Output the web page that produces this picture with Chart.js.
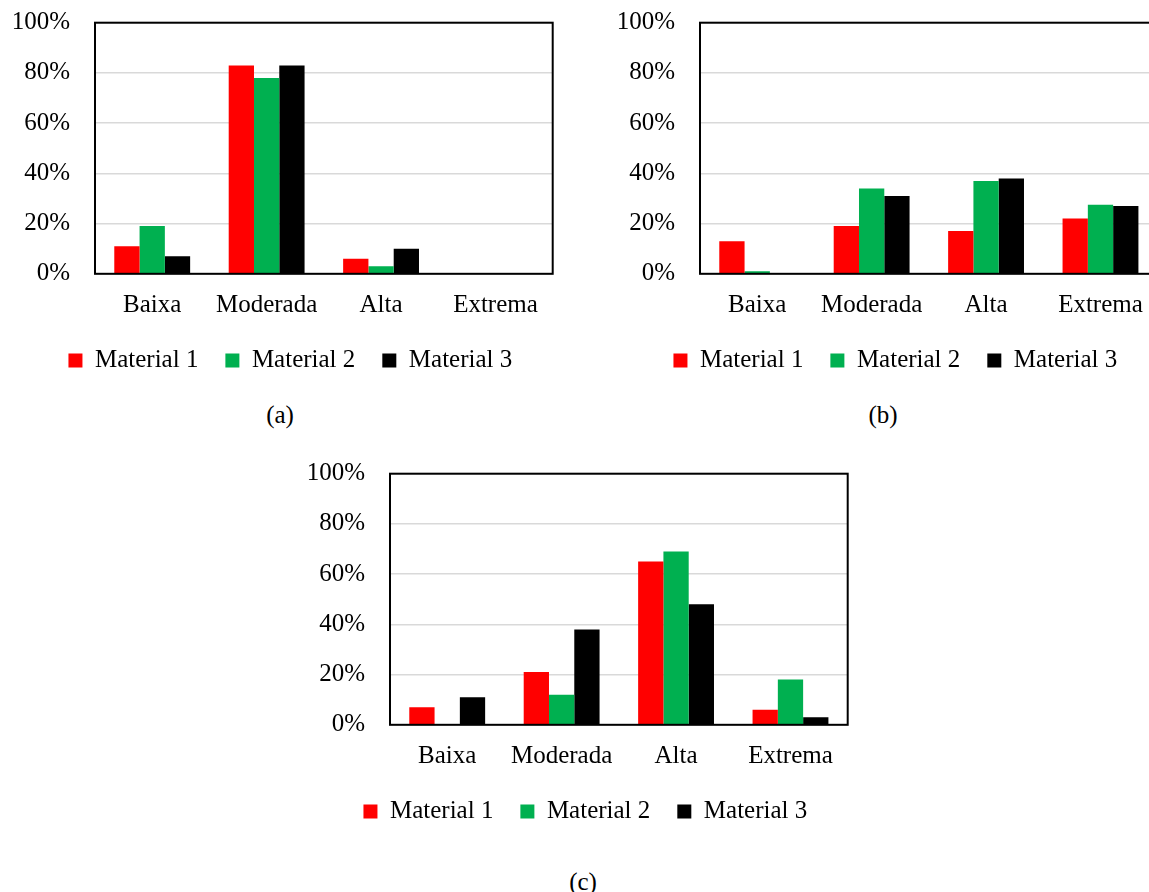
<!DOCTYPE html>
<html>
<head>
<meta charset="utf-8">
<script src="https://cdn.jsdelivr.net/npm/chart.js@4/dist/chart.umd.min.js"></script>
<style>
  html, body { margin: 0; padding: 0; background: #fff; overflow: hidden; width: 1149px; height: 892px; }
  canvas { position: absolute; }
  .cap { position: absolute; font-family: "Liberation Serif", "Times New Roman", serif; font-size: 25px; color: #000; transform: translate(-50%, -50%); white-space: nowrap; }
</style>
</head>
<body>
<canvas id="ca" width="581" height="383" style="left:0px; top:0px;"></canvas>
<canvas id="cb" width="581" height="383" style="left:605px; top:0px;"></canvas>
<canvas id="cc" width="581" height="383" style="left:295px; top:451px;"></canvas>
<div class="cap" style="left:280px; top:415px;">(a)</div>
<div class="cap" style="left:883px; top:415px;">(b)</div>
<div class="cap" style="left:583px; top:882px;">(c)</div>
<script>
const categories = ["Baixa", "Moderada", "Alta", "Extrema"];
const seriesNames = ["Material 1", "Material 2", "Material 3"];
const seriesColors = ["#FF0000", "#00B050", "#000000"];
const yTicks = [0, 20, 40, 60, 80, 100];

// Chart (a)
const a_material1 = [11, 83, 6, 0];
const a_material2 = [19, 78, 3, 0];
const a_material3 = [7, 83, 10, 0];
// Chart (b)
const b_material1 = [13, 19, 17, 22];
const b_material2 = [1, 34, 37, 27.5];
const b_material3 = [0, 31, 38, 27];
// Chart (c)
const c_material1 = [7, 21, 65, 6];
const c_material2 = [0, 12, 69, 18];
const c_material3 = [11, 38, 48, 3];

const FONT = "'Liberation Serif', 'Times New Roman', serif";

const framePlugin = {
  id: 'frame',
  afterLayout(chart) {
    // center legend under the whole figure (plot + y labels)
    const lg = chart.legend;
    if (lg) { lg.left += 14; lg.right += 14; }
  },
  afterDatasetsDraw(chart) {
    const {ctx, chartArea: a} = chart;
    ctx.save();
    ctx.strokeStyle = '#000';
    ctx.lineWidth = 2;
    ctx.strokeRect(a.left, a.top, a.right - a.left, a.bottom - a.top);
    ctx.restore();
  }
};

function makeChart(id, s1, s2, s3) {
  const data = [s1, s2, s3];
  return new Chart(document.getElementById(id), {
    type: 'bar',
    data: {
      labels: categories,
      datasets: seriesNames.map((n, i) => ({
        label: n,
        data: data[i],
        backgroundColor: seriesColors[i],
        borderWidth: 0,
        categoryPercentage: 0.663,
        barPercentage: 1.0
      }))
    },
    plugins: [framePlugin],
    options: {
      responsive: false,
      animation: false,
      devicePixelRatio: 1,
      layout: { padding: { top: 22.7, right: 28.3, left: 0, bottom: 0 } },
      plugins: {
        legend: {
          position: 'bottom',
          labels: {
            boxWidth: 14, boxHeight: 14, padding: 27,
            color: '#000',
            font: { family: FONT, size: 25 }
          }
        },
        tooltip: { enabled: false },
        title: { display: false }
      },
      scales: {
        x: {
          afterFit(s) { s.height = 47.2; },
          grid: { display: false, drawTicks: false },
          border: { display: false },
          ticks: { color: '#000', padding: 17, font: { family: FONT, size: 25 }, maxRotation: 0 }
        },
        y: {
          min: 0, max: 100,
          afterFit(s) { s.width = 95; s.paddingTop = 0; s.paddingBottom = 0; },
          afterBuildTicks(s) { s.ticks = yTicks.map(v => ({ value: v })); },
          grid: { color: '#d9d9d9', lineWidth: 1.5, drawTicks: false },
          border: { display: false },
          ticks: { color: '#000', padding: 25, font: { family: FONT, size: 25 }, callback: v => v + '%' }
        }
      }
    }
  });
}

makeChart('ca', a_material1, a_material2, a_material3);
makeChart('cb', b_material1, b_material2, b_material3);
makeChart('cc', c_material1, c_material2, c_material3);
</script>
</body>
</html>
